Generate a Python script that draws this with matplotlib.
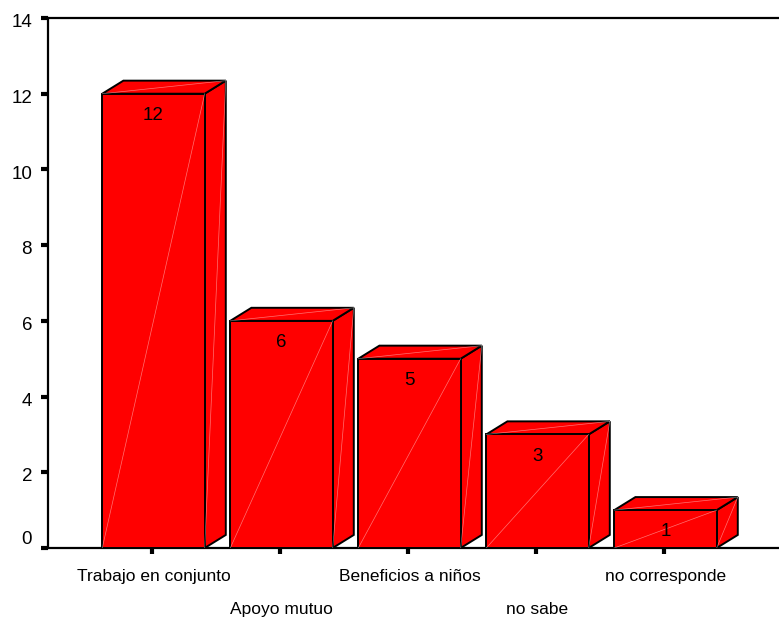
import matplotlib
matplotlib.use('Agg')
import matplotlib.pyplot as plt
from matplotlib.patches import Polygon
import numpy as np

plt.rcParams['font.family'] = ['Liberation Sans', 'DejaVu Sans']

categories = ['Trabajo en conjunto', 'Apoyo mutuo', 'Beneficios a niños',
              'no sabe', 'no corresponde']
counts = [12, 6, 5, 3, 1]
yticks = [0, 2, 4, 6, 8, 10, 12, 14]

fig = plt.figure(figsize=(7.79, 6.20), dpi=100)
W, H = 779.0, 620.0
ax = fig.add_axes([48 / W, (H - 548) / H, 1.0 - 48 / W, (548 - 18) / H])

bw = 0.8      # bar width (data units)
dx = 0.165    # depth offset in x
dy = 0.345    # depth offset in y
red = '#ff0000'
xs = np.arange(len(counts))

for x, h in zip(xs, counts):
    x0, x1 = x - bw / 2, x + bw / 2
    front = Polygon([(x0, 0), (x1, 0), (x1, h), (x0, h)], closed=True,
                    facecolor=red, edgecolor='black', lw=1.4, zorder=3)
    top = Polygon([(x0, h), (x1, h), (x1 + dx, h + dy), (x0 + dx, h + dy)],
                  closed=True, facecolor=red, edgecolor='black', lw=1.4, zorder=2)
    side = Polygon([(x1, 0), (x1 + dx, dy), (x1 + dx, h + dy), (x1, h)],
                   closed=True, facecolor=red, edgecolor='black', lw=1.4, zorder=2)
    for p in (side, top, front):
        ax.add_patch(p)
    # faint highlight diagonals
    ax.plot([x0, x1], [0, h], color='white', lw=0.5, alpha=0.45, zorder=4)
    ax.plot([x0, x1 + dx], [h, h + dy], color='white', lw=0.5, alpha=0.45, zorder=4)
    ax.plot([x1, x1 + dx], [0, h + dy], color='white', lw=0.5, alpha=0.45, zorder=4)
    ax.text(x, h - 0.57, str(h), ha='center', va='center', fontsize=13.5, zorder=5)

ax.set_xlim(-0.824, 4.887)
ax.set_ylim(0, 14)
ax.set_yticks(yticks)
ax.set_yticklabels([])
ax.set_xticks(xs - 0.01)
ax.set_xticklabels([])

# y tick labels (SPSS puts them a bit below the tick, and "0" above)
for v in yticks:
    off = 5.8 if v == 0 else -3.3
    ax.annotate(str(v), xy=(0, v), xycoords=ax.get_yaxis_transform(),
                xytext=(-11.5, off), textcoords='offset points',
                ha='right', va='center', fontsize=13.5, annotation_clip=False)

# staggered category labels
for i, (x, lab) in enumerate(zip(xs, categories)):
    yoff = -0.76 if i % 2 == 0 else -1.62
    ax.text(x, yoff, lab, ha='center', va='center', fontsize=12.5, clip_on=False)

ax.spines['right'].set_visible(False)
for s in ('left', 'top', 'bottom'):
    ax.spines[s].set_linewidth(1.6)
ax.tick_params(axis='y', direction='out', length=5, width=3)
ax.tick_params(axis='x', direction='out', length=4, width=3)

fig.savefig('out.png', dpi=100)
